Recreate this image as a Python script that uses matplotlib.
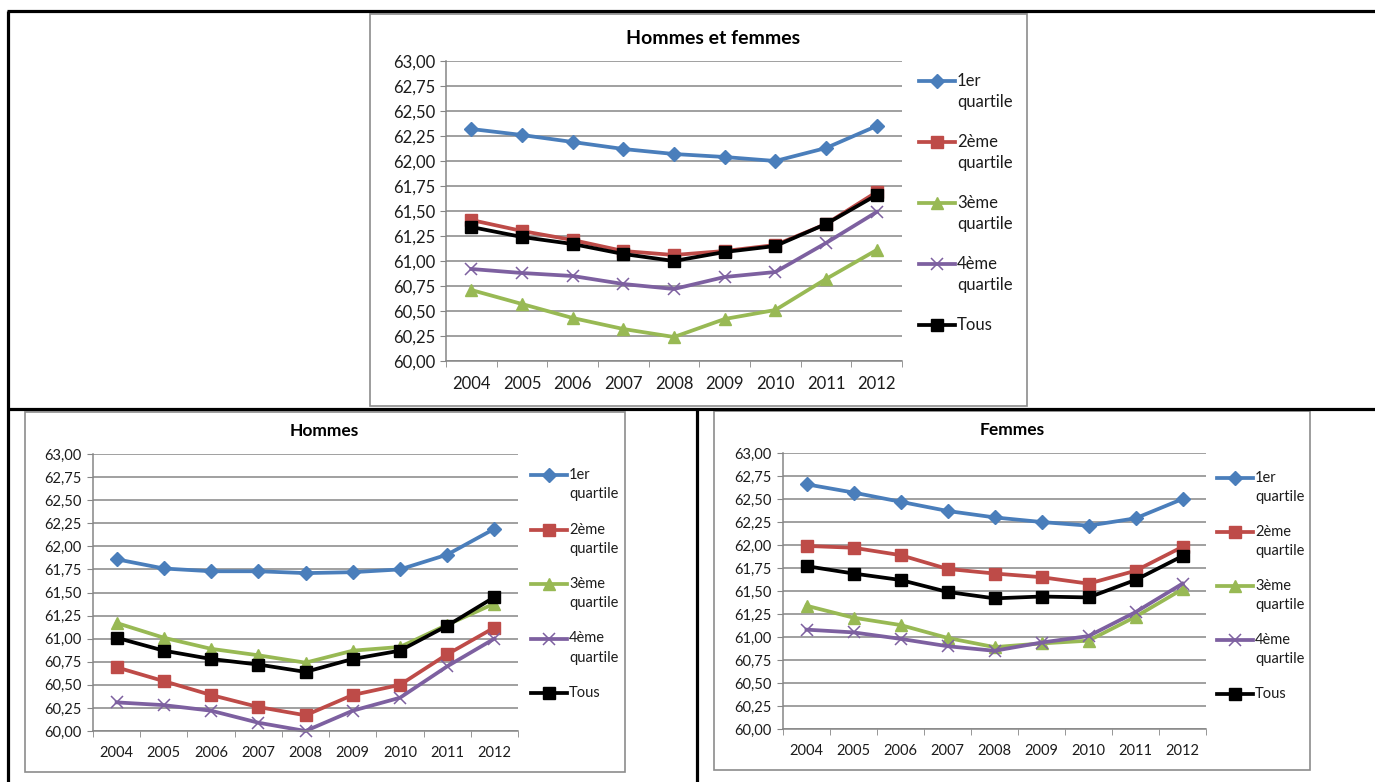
import matplotlib
matplotlib.use("Agg")
import matplotlib.pyplot as plt
from matplotlib.lines import Line2D
from matplotlib.patches import Rectangle
from matplotlib.ticker import FixedLocator, FuncFormatter

plt.rcParams['font.family'] = ['Lato', 'DejaVu Sans']

years = [2004, 2005, 2006, 2007, 2008, 2009, 2010, 2011, 2012]
series_names = ["1er\nquartile", "2ème\nquartile", "3ème\nquartile", "4ème\nquartile", "Tous"]

# Hommes et femmes
ensemble_q1 = [62.32, 62.26, 62.19, 62.12, 62.07, 62.04, 62.00, 62.13, 62.35]
ensemble_q2 = [61.41, 61.30, 61.21, 61.10, 61.06, 61.10, 61.16, 61.37, 61.69]
ensemble_q3 = [60.71, 60.57, 60.43, 60.32, 60.24, 60.42, 60.51, 60.82, 61.11]
ensemble_q4 = [60.92, 60.88, 60.85, 60.77, 60.72, 60.84, 60.89, 61.18, 61.49]
ensemble_tous = [61.34, 61.24, 61.17, 61.07, 61.00, 61.09, 61.15, 61.37, 61.66]

# Hommes
hommes_q1 = [61.86, 61.76, 61.73, 61.73, 61.71, 61.72, 61.75, 61.91, 62.19]
hommes_q2 = [60.69, 60.54, 60.39, 60.26, 60.17, 60.39, 60.50, 60.83, 61.12]
hommes_q3 = [61.17, 61.01, 60.89, 60.82, 60.74, 60.87, 60.91, 61.15, 61.38]
hommes_q4 = [60.31, 60.28, 60.22, 60.09, 60.00, 60.22, 60.36, 60.70, 61.00]
hommes_tous = [61.01, 60.87, 60.78, 60.72, 60.64, 60.78, 60.87, 61.14, 61.45]

# Femmes
femmes_q1 = [62.66, 62.57, 62.47, 62.37, 62.30, 62.25, 62.21, 62.29, 62.50]
femmes_q2 = [61.99, 61.97, 61.89, 61.74, 61.69, 61.65, 61.58, 61.72, 61.98]
femmes_q3 = [61.34, 61.21, 61.13, 60.99, 60.89, 60.93, 60.96, 61.22, 61.52]
femmes_q4 = [61.08, 61.05, 60.98, 60.90, 60.85, 60.94, 61.01, 61.27, 61.58]
femmes_tous = [61.77, 61.69, 61.62, 61.49, 61.42, 61.44, 61.43, 61.62, 61.88]

y_ticks = [60.00, 60.25, 60.50, 60.75, 61.00, 61.25, 61.50, 61.75,
           62.00, 62.25, 62.50, 62.75, 63.00]

styles = [
    dict(color="#4A7EBB", marker="D", ms=7, mew=1),
    dict(color="#BE4B48", marker="s", ms=8, mew=1),
    dict(color="#98B954", marker="^", ms=9, mew=1),
    dict(color="#7D60A0", marker="x", ms=9, mew=1.1),
    dict(color="#000000", marker="s", ms=8, mew=1),
]

W, H = 1375, 782
TXT = "#1c1c1c"
fig = plt.figure(figsize=(W / 100, H / 100), dpi=100)

# overlay in pixel coordinates for the table borders, frames, titles and legends
over = fig.add_axes([0, 0, 1, 1])
over.set_xlim(0, W)
over.set_ylim(H, 0)
over.axis("off")

black = dict(color="black", lw=2.3, solid_capstyle="butt")
over.plot([7, W], [11, 11], **black)
over.plot([8, 8], [11, H], **black)
over.plot([7, W], [408.5, 408.5], **black)
over.plot([697, 697], [408.5, H], **black)


def panel(box, plot, title, title_x, data, fs, tfs, leg_x, leg_y, leg_dy):
    x0, y0, x1, y1 = box
    over.add_patch(Rectangle((x0, y0), x1 - x0, y1 - y0, fill=False,
                             ec="#8C8C8C", lw=1.2))
    px0, py0, px1, py1 = plot
    ax = fig.add_axes([px0 / W, 1 - py1 / H, (px1 - px0) / W, (py1 - py0) / H])
    ax.set_facecolor("none")
    xs = list(range(len(years)))
    for vals, st in zip(data, styles):
        ax.plot(xs, vals, lw=2.7, clip_on=False, **st)
    ax.set_xlim(-0.5, len(years) - 0.5)
    ax.set_ylim(60, 63)
    ax.yaxis.set_major_locator(FixedLocator(y_ticks))
    ax.yaxis.set_major_formatter(FuncFormatter(lambda v, p: f"{v:.2f}".replace(".", ",")))
    ax.set_xticks(xs)
    ax.set_xticklabels([str(y) for y in years])
    ax.set_xticks([i - 0.5 for i in range(len(years) + 1)], minor=True)
    ax.tick_params(axis="x", which="major", length=0, pad=11, labelsize=fs, labelcolor=TXT)
    ax.tick_params(axis="x", which="minor", length=4, color="#868686", direction="out")
    ax.tick_params(axis="y", length=4, color="#868686", direction="out", pad=4,
                   labelsize=fs, labelcolor=TXT)
    ax.grid(axis="y", color="#868686", lw=1.1)
    ax.set_axisbelow(True)
    for s in ("top", "right"):
        ax.spines[s].set_visible(False)
    for s in ("left", "bottom"):
        ax.spines[s].set_color("#868686")
        ax.spines[s].set_linewidth(1.1)
    over.text(title_x, py0 - 23, title, ha="center", va="center",
              fontsize=tfs, fontweight="bold", color="black")
    # legend to the right of the plot
    for i, (name, st) in enumerate(zip(series_names, styles)):
        yy = leg_y + i * leg_dy
        over.add_line(Line2D([leg_x, leg_x + 18, leg_x + 36], [yy, yy, yy],
                             lw=2.7, markevery=[1], **st))
        first, *rest = name.split("\n")
        over.text(leg_x + 38, yy, first, ha="left", va="center", fontsize=fs, color=TXT)
        if rest:
            over.text(leg_x + 38, yy + leg_dy * 0.35, rest[0], ha="left", va="center",
                      fontsize=fs, color=TXT)
    return ax


panel((370, 14, 1027, 406), (446, 61, 902, 361), "Hommes et femmes", 713,
      [ensemble_q1, ensemble_q2, ensemble_q3, ensemble_q4, ensemble_tous],
      12, 14, 919, 81, 61)
panel((25, 412, 625, 772), (93, 454, 518, 731), "Hommes", 324,
      [hommes_q1, hommes_q2, hommes_q3, hommes_q4, hommes_tous],
      10.5, 12.5, 531, 475, 54.5)
panel((714, 411, 1310, 770), (783, 453, 1206, 729), "Femmes", 1012,
      [femmes_q1, femmes_q2, femmes_q3, femmes_q4, femmes_tous],
      10.5, 12.5, 1217, 478, 54)

fig.savefig("out.png", dpi=100)
